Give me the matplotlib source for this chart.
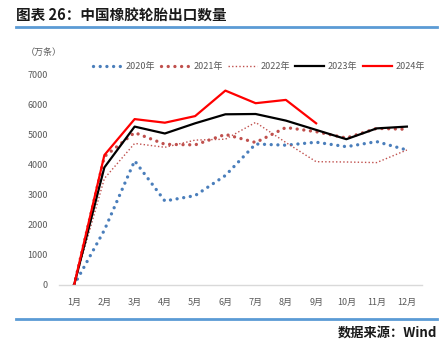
import matplotlib.pyplot as plt
from matplotlib.lines import Line2D

plt.rcParams['font.family'] = ['Noto Sans CJK SC', 'DejaVu Sans']

months = ['1月', '2月', '3月', '4月', '5月', '6月', '7月', '8月', '9月', '10月', '11月', '12月']
y2020 = [0, 1830, 4140, 2800, 2980, 3650, 4700, 4660, 4760, 4610, 4780, 4500]
y2021 = [0, 4280, 5080, 4690, 4670, 5020, 4750, 5250, 5110, 4900, 5220, 5190]
y2022 = [0, 3550, 4720, 4590, 4830, 4860, 5420, 4750, 4110, 4100, 4080, 4500]
y2023 = [0, 3920, 5280, 5050, 5390, 5690, 5700, 5480, 5170, 4860, 5220, 5280]
y2024 = [0, 4330, 5530, 5410, 5630, 6480, 6060, 6170, 5390]

gray = '#595959'
blue = '#4A7EBB'
brick = '#C0504D'

fig = plt.figure(figsize=(4.4, 3.47), dpi=100)

# title and rules
fig.text(16/440, 1 - 16/347, '图表 26：中国橡胶轮胎出口数量', fontsize=10.5,
         fontweight='bold', va='center', ha='left', color='#1a1a1a')
fig.add_artist(Line2D([16/440, 437/440], [1 - 26.5/347] * 2, color='#5B9BD5', lw=2))
fig.add_artist(Line2D([16/440, 437/440], [1 - 319/347] * 2, color='#5B9BD5', lw=2))
fig.text(437/440, 1 - 333/347, '数据来源：Wind', fontsize=9.5, fontweight='bold',
         va='center', ha='right', color='#1a1a1a')

ax = fig.add_axes([59/440, 1 - 285/347, (422 - 59)/440, 210/347])
x = range(1, 13)

ax.plot(x, y2020, color=blue, lw=2.4, linestyle=(0, (0.01, 2.0)),
        dash_capstyle='round', label='2020年')
ax.plot(x, y2021, color=brick, lw=2.4, linestyle=(0, (0.01, 2.0)),
        dash_capstyle='round', label='2021年')
ax.plot(x, y2022, color=brick, lw=1.0, linestyle=(0, (1, 1.6)),
        label='2022年')
ax.plot(x, y2023, color='black', lw=1.6, label='2023年')
ax.plot(range(1, len(y2024) + 1), y2024, color='#FF0000', lw=1.6, label='2024年')

ax.set_xlim(0.5, 12.5)
ax.set_ylim(0, 7000)
ax.set_xticks(list(x))
ax.set_xticklabels(months)
ax.set_yticks(range(0, 7001, 1000))
ax.tick_params(length=0, labelsize=6.5, colors=gray)
ax.tick_params(axis='x', pad=9)
ax.tick_params(axis='y', pad=8)
for s in ['top', 'right', 'left']:
    ax.spines[s].set_visible(False)
ax.spines['bottom'].set_color('#D9D9D9')
ax.spines['bottom'].set_linewidth(1)

fig.text(44/440, 1 - 52/347, '（万条）', fontsize=6.5, color=gray, va='center', ha='center')

leg = ax.legend(loc='center', bbox_to_anchor=(259/440, 1 - 67/347),
                bbox_transform=fig.transFigure, ncol=5, frameon=False,
                fontsize=6.5, handlelength=3.2, handletextpad=0.4,
                columnspacing=0.6)
for t in leg.get_texts():
    t.set_color(gray)

fig.savefig('out.png', dpi=100)
